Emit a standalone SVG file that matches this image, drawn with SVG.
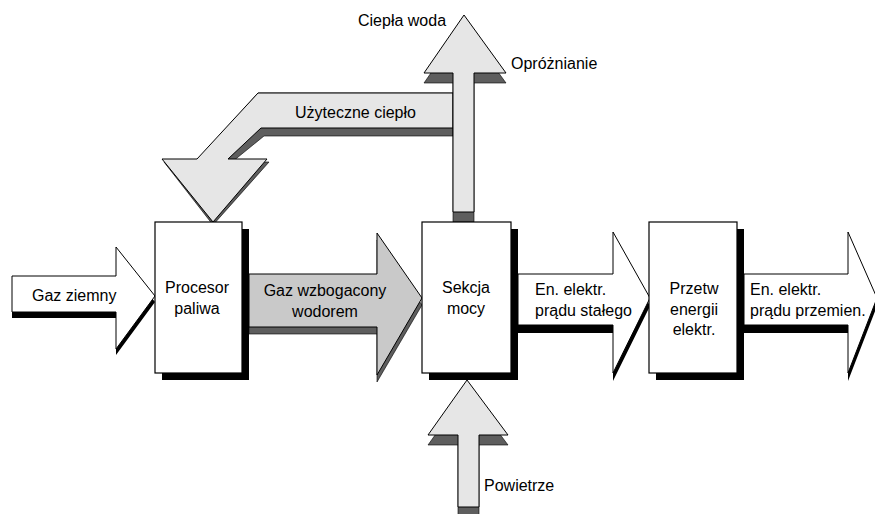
<svg xmlns="http://www.w3.org/2000/svg" width="875" height="514" viewBox="0 0 875 514">
<style>
.box{fill:#fff;stroke:#000;stroke-width:1.2}
.bsh{fill:#000}
.lt{fill:#e6e6e6;stroke:#000;stroke-width:1}
.md{fill:#c9c9c9;stroke:#000;stroke-width:1}
.wh{fill:#fff;stroke:#000;stroke-width:1}
.dsh{fill:#5e5e5e;stroke:#000;stroke-width:0.6}
.ksh{fill:#000}
text{font-family:"Liberation Sans",Arial,sans-serif;font-size:16px;fill:#000}
.c{text-anchor:middle}
</style>
<rect width="875" height="514" fill="#fff"/>
<g id="connectors">
  <g id="uzyteczne-cieplo">
    <polygon class="dsh" points="453,93 258,93 197,162 164,162 213,225 269,162 232,162 264,136 453,136"/>
    <polygon class="lt" points="453,93 258,93 197,159 162,159 213,222 267,159 228,159 261,128 453,128"/>
    <text x="295" y="118">Użyteczne ciepło</text>
  </g>
  <g id="ciepla-woda">
    <polygon class="dsh" transform="translate(0,10)" points="464,15 506,73 474,73 474,212 453,212 453,73 424,73"/>
    <polygon class="lt" points="464,15 506,73 474,73 474,212 453,212 453,73 424,73"/>
    <text x="358" y="26">Ciepła woda</text>
    <text x="511" y="69">Opróżnianie</text>
  </g>
  <g id="powietrze">
    <polygon class="dsh" transform="translate(0,10)" points="467,380 508,435 479,435 479,507 458,507 458,435 428,435"/>
    <polygon class="lt" points="467,380 508,435 479,435 479,507 458,507 458,435 428,435"/>
    <text x="484" y="491">Powietrze</text>
  </g>
  <g id="gaz-ziemny">
    <polygon class="ksh" transform="translate(0,6)" points="12,276 116,276 116,247 155,296 116,349 116,312 12,312"/>
    <polygon class="wh" points="12,276 116,276 116,247 155,296 116,349 116,312 12,312"/>
    <text x="32" y="301">Gaz ziemny</text>
  </g>
  <g id="gaz-wzbogacony">
    <polygon class="dsh" transform="translate(0,7)" points="249,274 377,274 377,233 422,298 377,375 377,327 249,327"/>
    <polygon class="md" points="249,274 377,274 377,233 422,298 377,375 377,327 249,327"/>
    <text class="c" x="325" y="296">Gaz wzbogacony</text>
    <text class="c" x="325" y="317">wodorem</text>
  </g>
  <g id="en-stale">
    <polygon class="ksh" transform="translate(0,8)" points="518,274 613,274 613,232 650,298 613,373 613,325 518,325"/>
    <polygon class="wh" points="518,274 613,274 613,232 650,298 613,373 613,325 518,325"/>
    <text x="535" y="295">En. elektr.</text>
    <text x="535" y="316">prądu stałego</text>
  </g>
  <g id="en-przemienne">
    <polygon class="ksh" transform="translate(0,8)" points="744,274 848,274 848,232 877,298 848,373 848,325 744,325"/>
    <polygon class="wh" points="744,274 848,274 848,232 877,298 848,373 848,325 744,325"/>
    <text x="750" y="295">En. elektr.</text>
    <text x="750" y="316">prądu przemien.</text>
  </g>
</g>
<g id="procesor-paliwa">
  <rect class="bsh" x="162" y="229" width="87" height="151"/>
  <rect class="box" x="155" y="222" width="87" height="151"/>
  <text class="c" x="197" y="293">Procesor</text>
  <text class="c" x="197" y="314">paliwa</text>
</g>
<g id="sekcja-mocy">
  <rect class="bsh" x="429" y="229" width="89" height="151"/>
  <rect class="box" x="422" y="222" width="89" height="151"/>
  <text class="c" x="466" y="293">Sekcja</text>
  <text class="c" x="466" y="314">mocy</text>
</g>
<g id="przetw-energii">
  <rect class="bsh" x="656" y="229" width="88" height="151"/>
  <rect class="box" x="649" y="222" width="88" height="151"/>
  <text class="c" x="694" y="294">Przetw</text>
  <text class="c" x="694" y="315">energii</text>
  <text class="c" x="694" y="335">elektr.</text>
</g>
</svg>
